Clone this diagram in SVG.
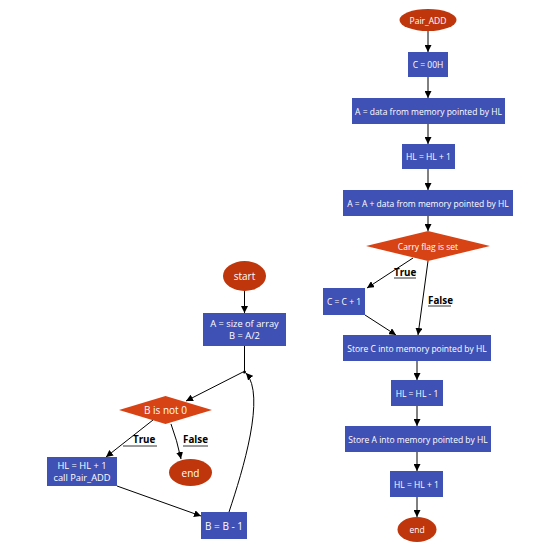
<svg xmlns="http://www.w3.org/2000/svg" width="554" height="554" viewBox="0 0 554 554">
<defs>
<marker id="ah" viewBox="0 0 10 10" refX="10" refY="5" markerWidth="7" markerHeight="7" orient="auto" markerUnits="userSpaceOnUse">
<path d="M0,0 L10,5 L0,10 z" fill="#000"/>
</marker>
<style>
.box{fill:#3f51b5;}
.term{fill:#bf360c;}
.dec{fill:#d84315;}
.t{font-family:"Open Sans","DejaVu Sans",sans-serif;fill:#fff;text-anchor:middle;dominant-baseline:central;font-size:8.5px;}
.tl{font-size:10px;}
.tm{font-size:9.3px;}
.lab{font-family:"Open Sans","DejaVu Sans",sans-serif;fill:#000;font-weight:bold;font-size:9.8px;}
.e{fill:none;stroke:#000;stroke-width:1;marker-end:url(#ah);}
.u{stroke:#000;stroke-width:0.8;}
</style>
</defs>
<rect width="554" height="554" fill="#fff"/>
<g id="connectors">
<line class="e" x1="244.5" y1="291" x2="244.5" y2="313"/>
<line x1="244.5" y1="346" x2="244.5" y2="372" stroke="#000"/>
<circle cx="244.5" cy="372" r="1.5" fill="#000"/>
<line class="e" x1="243" y1="372" x2="186" y2="401"/>
<line class="e" x1="153" y1="420" x2="106" y2="457"/>
<path class="e" d="M171,424 Q177,440 181,459"/>
<line class="e" x1="117" y1="486" x2="201" y2="516"/>
<path class="e" d="M229,512 C243,470 266,395 246,373"/>
<line class="e" x1="428" y1="31" x2="428" y2="52"/>
<line class="e" x1="428" y1="77" x2="428" y2="98"/>
<line class="e" x1="428" y1="124" x2="428" y2="144"/>
<line class="e" x1="428" y1="169" x2="428" y2="190"/>
<line class="e" x1="428" y1="216" x2="428" y2="231"/>
<line class="e" x1="413" y1="258" x2="367" y2="288"/>
<line class="e" x1="428" y1="261" x2="418" y2="335"/>
<line class="e" x1="365" y1="315" x2="396" y2="335"/>
<line class="e" x1="417" y1="361" x2="417" y2="380"/>
<line class="e" x1="417" y1="406" x2="417" y2="426"/>
<line class="e" x1="417" y1="452" x2="417" y2="471"/>
<line class="e" x1="417" y1="497" x2="417" y2="517"/>
</g>
<g id="labels">
<text class="lab" x="133" y="443">True</text>
<line class="u" x1="123" y1="446" x2="157" y2="446"/>
<text class="lab" x="183" y="443">False</text>
<line class="u" x1="183" y1="446" x2="208" y2="446"/>
<text class="lab" x="394" y="276">True</text>
<line class="u" x1="394" y1="278" x2="416" y2="278"/>
<text class="lab" x="428" y="304">False</text>
<line class="u" x1="428" y1="306" x2="451" y2="306"/>
</g>
<g id="start"><ellipse class="term" cx="244.5" cy="276" rx="21.5" ry="15"/><text class="t tl" x="244.5" y="276">start</text></g>
<g id="init"><rect class="box" x="203" y="313" width="83" height="33"/><text class="t tm" x="244.5" y="323.5">A = size of array</text><text class="t tm" x="244.5" y="335.5">B = A/2</text></g>
<g id="bnot0"><polygon class="dec" points="119,410 165.5,396 212,410 165.5,424"/><text class="t tl" x="165.5" y="410">B is not 0</text></g>
<g id="hlcall"><rect class="box" x="47" y="457" width="70" height="29"/><text class="t tm" x="82" y="465.5">HL = HL + 1</text><text class="t tm" x="82" y="477.5">call Pair_ADD</text></g>
<g id="end1"><ellipse class="term" cx="190.5" cy="472.5" rx="21.5" ry="13.5"/><text class="t tl" x="190.5" y="472.5">end</text></g>
<g id="bdec"><rect class="box" x="201" y="512" width="46" height="27"/><text class="t tl" x="224" y="525.5">B = B - 1</text></g>
<g id="pairadd"><ellipse class="term" cx="428" cy="20" rx="28.5" ry="11"/><text class="t" x="428" y="20">Pair_ADD</text></g>
<g id="c00"><rect class="box" x="408" y="52" width="40" height="25"/><text class="t" x="428" y="64.5">C = 00H</text></g>
<g id="adata"><rect class="box" x="352" y="98" width="153" height="26"/><text class="t" x="428.5" y="111">A = data from memory pointed by HL</text></g>
<g id="hlinc1"><rect class="box" x="402" y="144" width="53" height="25"/><text class="t" x="428.5" y="156.5">HL = HL + 1</text></g>
<g id="aadd"><rect class="box" x="343" y="190" width="170" height="26"/><text class="t" x="428" y="203">A = A + data from memory pointed by HL</text></g>
<g id="carry"><polygon class="dec" points="366,246 428,231 490,246 428,261"/><text class="t" x="428" y="246">Carry flag is set</text></g>
<g id="cinc"><rect class="box" x="323" y="288" width="42" height="27"/><text class="t" x="344" y="301.5">C = C + 1</text></g>
<g id="storec"><rect class="box" x="343" y="335" width="148" height="26"/><text class="t" x="417" y="348">Store C into memory pointed by HL</text></g>
<g id="hldec"><rect class="box" x="391" y="380" width="52" height="26"/><text class="t" x="417" y="393">HL = HL - 1</text></g>
<g id="storea"><rect class="box" x="345" y="426" width="146" height="26"/><text class="t" x="418" y="439">Store A into memory pointed by HL</text></g>
<g id="hlinc2"><rect class="box" x="390" y="471" width="53" height="26"/><text class="t" x="416.5" y="484">HL = HL + 1</text></g>
<g id="end2"><ellipse class="term" cx="417" cy="529.5" rx="19.5" ry="12.5"/><text class="t" x="417" y="529.5">end</text></g>
</svg>
